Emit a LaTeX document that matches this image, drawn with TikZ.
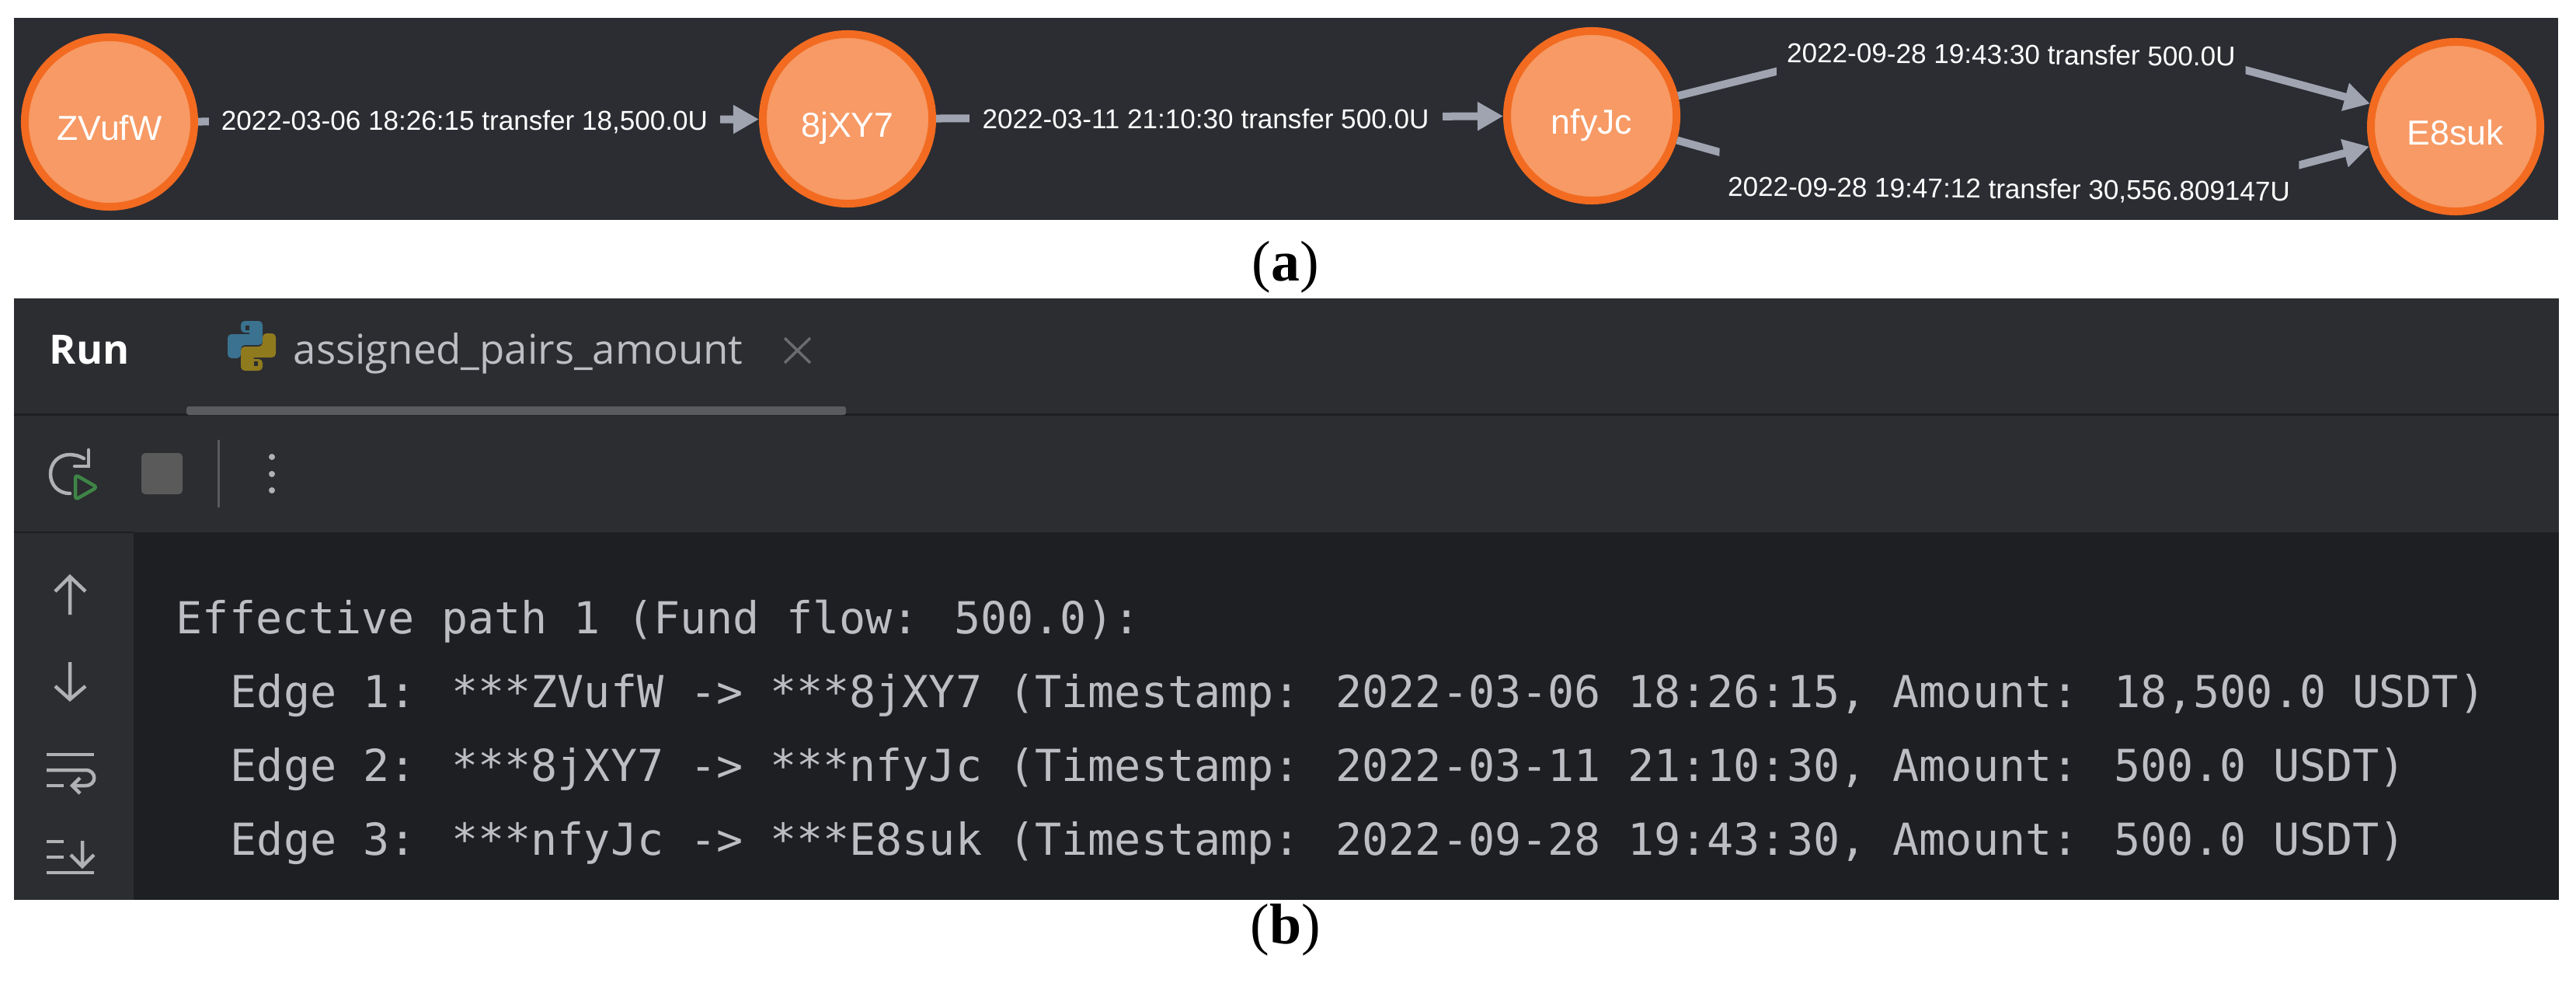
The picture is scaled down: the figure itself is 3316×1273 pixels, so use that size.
\documentclass[tikz,border=0pt]{standalone}
\usepackage{fontspec}
\setmainfont{Liberation Sans}
\newfontfamily\codefont{DejaVu Sans Mono}
\newfontfamily\uifont{Open Sans}
\newfontfamily\capfont{Liberation Serif}
\usetikzlibrary{arrows.meta}
\definecolor{panelA}{HTML}{2B2D33}
\definecolor{chrome}{HTML}{2B2D30}
\definecolor{editor}{HTML}{1E1F22}
\definecolor{nodeFill}{HTML}{F79A65}
\definecolor{nodeLine}{HTML}{F26B21}
\definecolor{edgeCol}{HTML}{A0A4B0}
\definecolor{codeCol}{HTML}{BCBEC4}
\definecolor{iconCol}{HTML}{AFB1B3}
\definecolor{tabLine}{HTML}{5A5B5F}
\definecolor{stopCol}{HTML}{5A5A5A}
\definecolor{pyBlue}{HTML}{3A7290}
\definecolor{pyYellow}{HTML}{8F7A1E}
\definecolor{runGreen}{HTML}{499C54}
\tikzset{
  x=0.01cm,y=-0.01cm,
  acct/.style={circle,draw=nodeLine,fill=nodeFill,line width=0.1cm,minimum size=2.18cm,inner sep=0pt,text=white,text height=.46cm,text depth=0pt,font=\fontsize{12.7}{14}\selectfont},
  flow/.style={draw=edgeCol,line width=0.1cm,-{Triangle[length=.33cm,width=.35cm]}},
  flowlabel/.style={fill=panelA,text=white,inner xsep=.155cm,inner ysep=0pt,font=\fontsize{9.98}{12}\selectfont},
  codeline/.style={anchor=base west,inner sep=0pt,text=codeCol,font=\codefont\fontsize{16.13}{18}\selectfont},
  icon/.style={draw=iconCol,line width=.045cm},
  uitext/.style={anchor=base west,inner sep=0pt},
  caplabel/.style={inner sep=0pt,text=black,font=\capfont\fontsize{21}{24}\selectfont},
}
\begin{document}
\begin{tikzpicture}
\useasboundingbox (0,0) rectangle (3316,1273);
\fill[white] (0,0) rectangle (3316,1273);
% panel a
\fill[panelA] (18,23) rectangle (3293,283);
\node[acct] (zv) at (141,157) {ZVufW};
\node[acct] (jx) at (1091,153) {8jXY7};
\node[acct] (nf) at (2049,149) {nfyJc};
\node[acct] (e8) at (3161,163) {E8suk};
\draw[flow] (zv) -- (jx);
\draw[flow] (jx) -- (nf);
\draw[flow] (nf.13) .. controls (2605,12) .. (e8.165);
\draw[flow] (nf.-16) .. controls (2605,306) .. (e8.193);
\begin{scope}
\clip (18,23) rectangle (3293,281);
\node[flowlabel] (l1) at (598,157) {2022-03-06 18:26:15 transfer 18,500.0U};
\node[flowlabel,inner xsep=.17cm] (l2) at (1552,153) {2022-03-11 21:10:30 transfer 500.0U};
\node[flowlabel,rotate=-0.5,inner xsep=.13cm,minimum height=.72cm] (l3) at (2589,70) {2022-09-28 19:43:30 transfer 500.0U};
\node[flowlabel,rotate=-0.5,inner xsep=.11cm,minimum height=1.2cm] (l4) at (2586,245) {2022-09-28 19:47:12 transfer 30,556.809147U};
\end{scope}
\node[caplabel] (capa) at (1655,344) {(\textbf{a})};
% panel b
\fill[chrome] (18,384) rectangle (3294,1158);
\fill[editor] (172,685) rectangle (3294,1158);
\fill[editor] (18,532) rectangle (3294,535);
\fill[editor] (18,684) rectangle (172,686);
\fill[tabLine,rounded corners=.03cm] (240,523) rectangle (1089,534);
\node[uitext,text=white,font=\uifont\bfseries\fontsize{14.8}{17}\selectfont] (run) at (63,468) {Run};
\node[uitext,text=codeCol,font=\uifont\fontsize{15}{18}\selectfont] (tab) at (377,468) {assigned\_pairs\_amount};
% python icon
\fill[pyBlue,rounded corners=.05cm] (310,428) -- (310,413) -- (338,413) -- (338,444) -- (310,444) -- (310,461) -- (293,461) -- (293,430) -- (325,430) -- (325,428) -- cycle;
\fill[pyYellow,rounded corners=.05cm] (338,462) -- (338,477) -- (310,477) -- (310,446) -- (338,446) -- (338,429) -- (355,429) -- (355,460) -- (323,460) -- (323,462) -- cycle;
\fill[chrome] (316,419) rectangle (321,425);
\fill[chrome] (327,465) rectangle (332,471);
% close cross
\draw[draw=tabLine!90!white,line width=.035cm] (1010,435) -- (1043,467) (1043,435) -- (1010,467);
% toolbar
\draw[icon,line cap=round] (108,590) .. controls (100,586) .. (90,585) .. controls (75,585) and (65,596) .. (65,610) .. controls (65,624) and (75,635) .. (90,635);
\draw[icon,line cap=round] (114,579) -- (114,600) -- (96,600);
\draw[draw=runGreen!85!black,line width=.045cm,rounded corners=.04cm,line join=round] (97,611) -- (125,627) -- (97,643) -- cycle;
\fill[stopCol,rounded corners=.05cm] (182,583) rectangle (235,636);
\fill[tabLine] (279.5,566) rectangle (282.5,653);
\fill[iconCol] (350,588) circle[radius=.04cm] (350,610) circle[radius=.04cm] (350,631) circle[radius=.04cm];
% sidebar icons
\draw[icon] (90,742) -- (90,791) (71,761) -- (90,742) -- (110,761);
\draw[icon] (90,852) -- (90,900) (71,883) -- (90,900) -- (110,883);
\draw[icon] (60,971) -- (121,971);
\draw[icon] (60,991) -- (110,991) .. controls (125,991) and (125,1011) .. (110,1011) -- (93,1011);
\draw[icon] (60,1011) -- (82,1011);
\draw[icon] (103,1001) -- (93,1011) -- (103,1021);
\draw[icon] (60,1083) -- (82,1083) (60,1103) -- (82,1103) (60,1123) -- (121,1123);
\draw[icon] (106,1082) -- (106,1115) (91,1100) -- (106,1115) -- (121,1100);
% output text
\node[codeline] (t0) at (226,815) {Effective path 1 (Fund flow: 500.0):};
\node[codeline] (t1) at (296,910) {Edge 1: ***ZVufW -> ***8jXY7 (Timestamp: 2022-03-06 18:26:15, Amount: 18,500.0 USDT)};
\node[codeline] (t2) at (296,1005) {Edge 2: ***8jXY7 -> ***nfyJc (Timestamp: 2022-03-11 21:10:30, Amount: 500.0 USDT)};
\node[codeline] (t3) at (296,1100) {Edge 3: ***nfyJc -> ***E8suk (Timestamp: 2022-09-28 19:43:30, Amount: 500.0 USDT)};
\node[caplabel] (capb) at (1655,1197) {(\textbf{b})};
\end{tikzpicture}
\end{document}
